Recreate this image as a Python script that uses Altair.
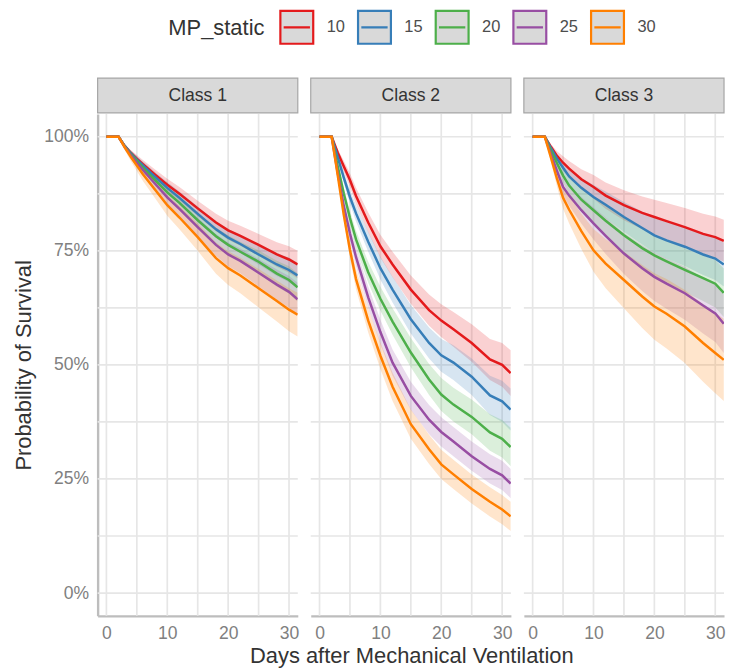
import altair as alt
import pandas as pd

# ---------------- data ----------------
days = [0, 2, 3, 4, 5, 6, 8, 10, 12, 15, 18, 20, 22, 25, 28, 30, 31.4]
mp_levels = ["10", "15", "20", "25", "30"]
classes = ["Class 1", "Class 2", "Class 3"]
colors = ["#E41A1C", "#377EB8", "#4DAF4A", "#984EA3", "#FF7F00"]

# survival estimates per class and MP_static level
class1_surv = {
    "10": [1, 1, 0.980, 0.965, 0.952, 0.940, 0.917, 0.895, 0.875, 0.843, 0.812, 0.795, 0.783, 0.763, 0.742, 0.731, 0.720],
    "15": [1, 1, 0.980, 0.964, 0.950, 0.937, 0.912, 0.888, 0.866, 0.831, 0.797, 0.779, 0.765, 0.742, 0.720, 0.708, 0.696],
    "20": [1, 1, 0.979, 0.962, 0.947, 0.932, 0.905, 0.878, 0.855, 0.817, 0.782, 0.763, 0.748, 0.726, 0.700, 0.686, 0.670],
    "25": [1, 1, 0.978, 0.960, 0.943, 0.927, 0.897, 0.867, 0.842, 0.802, 0.763, 0.742, 0.728, 0.702, 0.676, 0.660, 0.644],
    "30": [1, 1, 0.977, 0.956, 0.937, 0.918, 0.884, 0.850, 0.823, 0.780, 0.734, 0.712, 0.696, 0.668, 0.640, 0.621, 0.610],
}
class2_surv = {
    "10": [1, 1, 0.965, 0.935, 0.905, 0.870, 0.812, 0.760, 0.720, 0.665, 0.620, 0.597, 0.578, 0.548, 0.512, 0.500, 0.482],
    "15": [1, 1, 0.955, 0.910, 0.868, 0.832, 0.770, 0.712, 0.665, 0.600, 0.548, 0.521, 0.505, 0.474, 0.433, 0.420, 0.402],
    "20": [1, 1, 0.935, 0.875, 0.822, 0.775, 0.703, 0.645, 0.595, 0.527, 0.468, 0.435, 0.413, 0.386, 0.352, 0.338, 0.320],
    "25": [1, 1, 0.920, 0.848, 0.788, 0.736, 0.648, 0.572, 0.505, 0.432, 0.380, 0.353, 0.332, 0.300, 0.272, 0.258, 0.240],
    "30": [1, 1, 0.915, 0.828, 0.752, 0.688, 0.597, 0.520, 0.452, 0.370, 0.315, 0.282, 0.260, 0.228, 0.200, 0.183, 0.168],
}
class3_surv = {
    "10": [1, 1, 0.978, 0.958, 0.943, 0.930, 0.907, 0.890, 0.871, 0.850, 0.833, 0.824, 0.815, 0.802, 0.787, 0.780, 0.772],
    "15": [1, 1, 0.975, 0.952, 0.932, 0.913, 0.888, 0.868, 0.851, 0.824, 0.800, 0.784, 0.773, 0.759, 0.742, 0.733, 0.720],
    "20": [1, 1, 0.970, 0.942, 0.915, 0.893, 0.862, 0.839, 0.816, 0.784, 0.756, 0.740, 0.727, 0.708, 0.690, 0.678, 0.658],
    "25": [1, 1, 0.962, 0.925, 0.890, 0.871, 0.839, 0.810, 0.783, 0.744, 0.712, 0.693, 0.678, 0.657, 0.630, 0.613, 0.590],
    "30": [1, 1, 0.955, 0.908, 0.866, 0.840, 0.793, 0.751, 0.722, 0.686, 0.650, 0.628, 0.612, 0.584, 0.548, 0.526, 0.511],
}

# half-width of the confidence ribbon
class1_hw = {
    "10": [0, 0, 0.004, 0.006, 0.008, 0.009, 0.011, 0.013, 0.015, 0.017, 0.019, 0.021, 0.022, 0.024, 0.027, 0.029, 0.030],
    "15": [0, 0, 0.004, 0.006, 0.008, 0.009, 0.011, 0.013, 0.014, 0.016, 0.018, 0.019, 0.020, 0.022, 0.025, 0.027, 0.028],
    "20": [0, 0, 0.004, 0.006, 0.008, 0.009, 0.011, 0.013, 0.015, 0.017, 0.019, 0.021, 0.022, 0.025, 0.028, 0.030, 0.031],
    "25": [0, 0, 0.005, 0.007, 0.009, 0.011, 0.013, 0.016, 0.018, 0.021, 0.024, 0.026, 0.027, 0.030, 0.033, 0.035, 0.036],
    "30": [0, 0, 0.006, 0.009, 0.012, 0.015, 0.019, 0.023, 0.026, 0.030, 0.034, 0.037, 0.039, 0.042, 0.045, 0.047, 0.048],
}
class2_hw = {
    "10": [0, 0, 0.008, 0.012, 0.015, 0.018, 0.022, 0.025, 0.028, 0.031, 0.034, 0.036, 0.038, 0.041, 0.045, 0.048, 0.050],
    "15": [0, 0, 0.008, 0.012, 0.015, 0.018, 0.022, 0.025, 0.028, 0.031, 0.034, 0.036, 0.038, 0.040, 0.043, 0.045, 0.046],
    "20": [0, 0, 0.008, 0.012, 0.016, 0.019, 0.023, 0.026, 0.029, 0.032, 0.034, 0.036, 0.037, 0.038, 0.040, 0.041, 0.042],
    "25": [0, 0, 0.008, 0.013, 0.017, 0.020, 0.024, 0.027, 0.029, 0.031, 0.032, 0.032, 0.032, 0.032, 0.032, 0.032, 0.032],
    "30": [0, 0, 0.009, 0.014, 0.018, 0.022, 0.026, 0.029, 0.031, 0.032, 0.032, 0.032, 0.032, 0.032, 0.032, 0.032, 0.032],
}
class3_hw = {
    "10": [0, 0, 0.006, 0.010, 0.014, 0.017, 0.022, 0.026, 0.029, 0.033, 0.036, 0.038, 0.040, 0.042, 0.044, 0.045, 0.046],
    "15": [0, 0, 0.006, 0.010, 0.014, 0.017, 0.022, 0.026, 0.029, 0.033, 0.036, 0.038, 0.040, 0.042, 0.045, 0.047, 0.048],
    "20": [0, 0, 0.007, 0.011, 0.016, 0.019, 0.025, 0.030, 0.034, 0.038, 0.042, 0.044, 0.046, 0.048, 0.050, 0.052, 0.053],
    "25": [0, 0, 0.008, 0.013, 0.018, 0.022, 0.029, 0.035, 0.040, 0.045, 0.050, 0.053, 0.055, 0.058, 0.061, 0.063, 0.064],
    "30": [0, 0, 0.010, 0.017, 0.024, 0.030, 0.039, 0.047, 0.054, 0.062, 0.069, 0.073, 0.076, 0.080, 0.085, 0.088, 0.090],
}

x_grid = [0, 5, 10, 15, 20, 25, 30]
x_labels = [0, 10, 20, 30]
y_grid = [0, 0.125, 0.25, 0.375, 0.5, 0.625, 0.75, 0.875, 1.0]
y_labels = [0, 0.25, 0.5, 0.75, 1.0]

# ---------------- build table ----------------
surv_by_class = {"Class 1": class1_surv, "Class 2": class2_surv, "Class 3": class3_surv}
hw_by_class = {"Class 1": class1_hw, "Class 2": class2_hw, "Class 3": class3_hw}
rows = []
for cls in classes:
    for mp in mp_levels:
        for d, s, h in zip(days, surv_by_class[cls][mp], hw_by_class[cls][mp]):
            rows.append({"cls": cls, "mp": mp, "mpb": mp, "day": d, "surv": s,
                         "lo": max(s - h, 0), "hi": min(s + h, 1)})
df = pd.DataFrame(rows)
xgrid_df = pd.DataFrame({"gx": x_grid})
ygrid_df = pd.DataFrame({"gy": y_grid})

PW, PH = 201, 504
FONT = "Liberation Sans"
GRID = "#e6e6e6"

x_scale = alt.Scale(domain=[-1.44, 31.44], nice=False, zero=False)
y_scale = alt.Scale(domain=[-0.05, 1.05], nice=False, zero=False)
stroke_scale = alt.Scale(domain=mp_levels, range=colors)
fill_scale = alt.Scale(range=colors)


def panel(cls, idx):
    d = df[df.cls == cls]
    base = alt.Chart(d)

    x_axis = alt.Axis(values=x_labels, grid=False)
    if idx == 0:
        y_axis = alt.Axis(values=y_labels, format=".0%", grid=False)
        Y = lambda f: alt.Y(f, scale=y_scale, axis=y_axis, title="Probability of Survival")
    else:
        Y = lambda f: alt.Y(f, scale=y_scale, axis=None)
    X = lambda f: alt.X(f, scale=x_scale, axis=x_axis, title=None)

    hgrid = alt.Chart(ygrid_df).mark_rule(color=GRID, strokeWidth=1.7).encode(y=Y("gy:Q"))
    vgrid = alt.Chart(xgrid_df).mark_rule(color=GRID, strokeWidth=1.7).encode(x=X("gx:Q"))

    band = base.mark_area(opacity=0.2, clip=True).encode(
        x=X("day:Q"),
        y=Y("lo:Q"),
        y2="hi:Q",
        fill=alt.Fill("mpb:N", scale=fill_scale, legend=None),
    )
    line = base.mark_line(strokeWidth=2.5, clip=True).encode(
        x=X("day:Q"),
        y=Y("surv:Q"),
        stroke=alt.Stroke(
            "mp:N", scale=stroke_scale,
            legend=alt.Legend(
                title="MP_static", orient="none", direction="horizontal",
                legendX=71, legendY=-105,
                titleOrient="left",
                symbolType="M-1,-1H1V1H-1Z M-0.8,0H0.8",
                symbolSize=1089, symbolStrokeWidth=2.2, symbolFillColor="#d9d9d9",
                symbolOpacity=1,
                labelFontSize=16.5, titleFontSize=22, labelOffset=12,
                columnPadding=8, titlePadding=14,
                labelColor="#4d4d4d", titleColor="#333333",
                labelFont=FONT, titleFont=FONT, titleFontWeight="normal",
            ),
        ),
    )
    lab = pd.DataFrame({"label": [cls]})
    strip = alt.Chart(lab).mark_rect(fill="#d9d9d9", stroke="#a6a6a6", strokeWidth=1.2).encode(
        x=alt.value(0), x2=alt.value(PW), y=alt.value(-36), y2=alt.value(-1)
    )
    strip_txt = alt.Chart(lab).mark_text(fontSize=17.6, color="#333333", font=FONT).encode(
        x=alt.value(PW / 2), y=alt.value(-18), text="label:N"
    )
    return alt.layer(hgrid, vgrid, band, line, strip, strip_txt).properties(width=PW, height=PH)


chart = alt.hconcat(*[panel(c, i) for i, c in enumerate(classes)], spacing=11).resolve_scale(
    x="independent", y="independent"
).properties(
    padding={"left": 5, "top": 0, "right": 5, "bottom": 0},
    title=alt.Title("Days after Mechanical Ventilation", orient="bottom", anchor="middle",
                    dx=43, offset=4, fontSize=22, font=FONT, fontWeight="normal",
                    color="#333333"),
).configure_view(
    stroke=None
).configure_axis(
    domainColor="#bdbdbd", domainWidth=2.4, ticks=False,
    labelFont=FONT, titleFont=FONT, labelFontSize=17.6, titleFontSize=22,
    labelColor="#808080", titleColor="#333333", titleFontWeight="normal",
    labelPadding=9, titlePadding=8,
)

chart.save("out.html", embed_options={"renderer": "svg", "actions": False})
